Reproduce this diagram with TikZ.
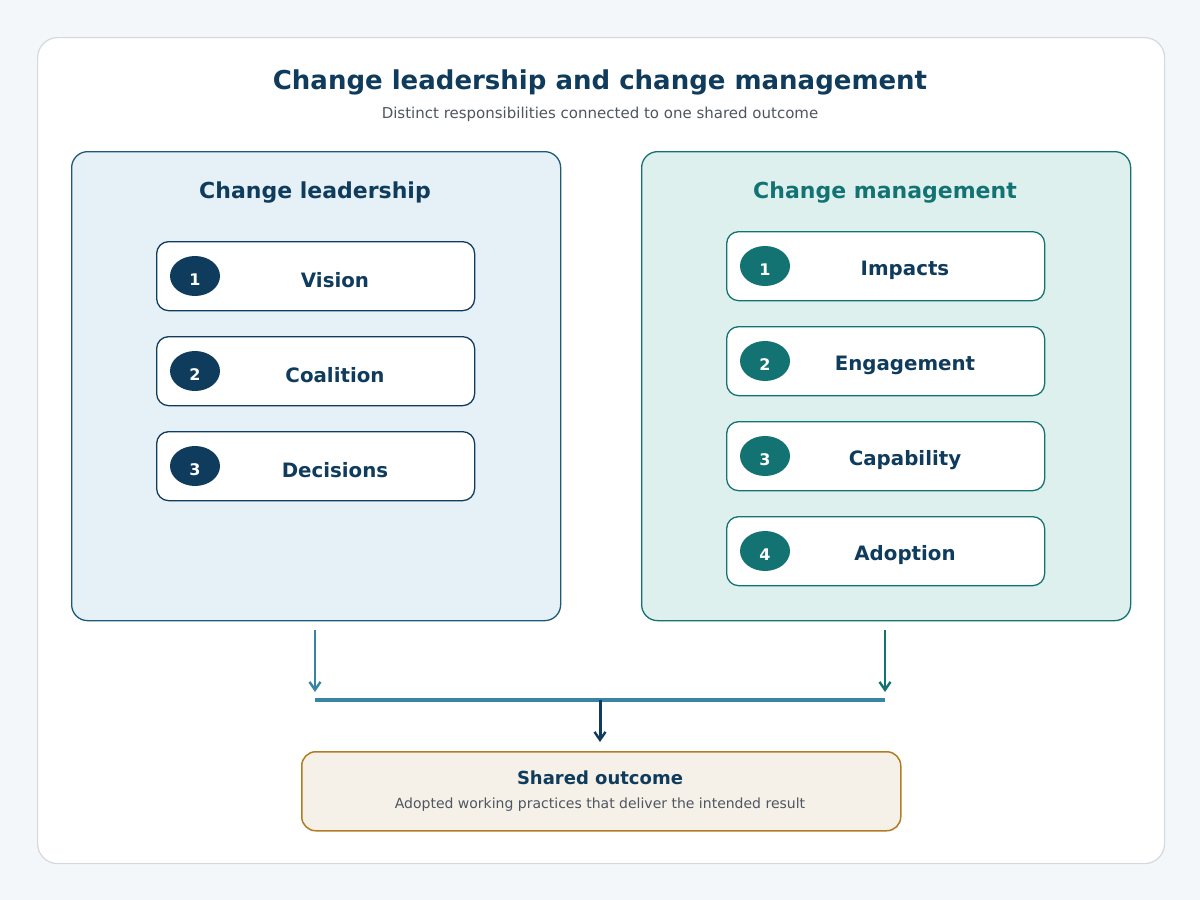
\documentclass[tikz,border=0pt]{standalone}
\usepackage{fontspec}
\setmainfont{DejaVu Sans}
\usetikzlibrary{arrows.meta,shapes.geometric,positioning}
\definecolor{bgc}{HTML}{F3F7FA}
\definecolor{cardline}{HTML}{D3D9DF}
\definecolor{navy}{HTML}{0F3B5C}
\definecolor{teal}{HTML}{137373}
\definecolor{lfill}{HTML}{E6F0F7}
\definecolor{rfill}{HTML}{DEF0ED}
\definecolor{lline}{HTML}{1E5A78}
\definecolor{midblue}{HTML}{3A84A3}
\definecolor{gold}{HTML}{B27D22}
\definecolor{ofill}{HTML}{F5F0E8}
\definecolor{greytext}{HTML}{4F5660}
\tikzset{
  panel/.style={draw, line width=1.3pt, rounded corners=16pt, minimum width=489pt, minimum height=469pt, anchor=north west},
  itembox/.style={draw, fill=white, line width=1.3pt, rounded corners=12pt, minimum width=318pt, minimum height=69pt, anchor=north west},
  numdot/.style={ellipse, minimum width=50pt, minimum height=40pt, inner sep=0pt},
  numtext/.style={text=white, font=\bfseries\fontsize{16}{18}\selectfont},
  itemtext/.style={text=navy, font=\bfseries\fontsize{19.8}{23}\selectfont},
  heading/.style={font=\bfseries\fontsize{22}{26}\selectfont},
  arr/.style={line width=2.2pt, -{Straight Barb[length=8pt,width=11pt,line width=2.4pt]}},
}
\begin{document}
\begin{tikzpicture}[x=1pt,y=-1pt]
\useasboundingbox (0,0) rectangle (1200,900);
\fill[bgc] (0,0) rectangle (1200,900);
\node[draw=cardline, fill=white, line width=1.2pt, rounded corners=20pt, minimum width=1127pt, minimum height=826pt, anchor=north west] (card) at (37,37) {};
\node[text=navy, font=\bfseries\fontsize{26}{30}\selectfont] (title) at (600,82) {Change leadership and change management};
\node[text=greytext, font=\fontsize{15}{18}\selectfont] (sub) at (600,114) {Distinct responsibilities connected to one shared outcome};
% panels
\node[panel, draw=lline, fill=lfill] (lp) at (71,151) {};
\node[panel, draw=teal, fill=rfill] (rp) at (641,151) {};
\node[heading, text=navy] (lh) at (315,193) {Change leadership};
\node[heading, text=teal] (rh) at (885,193) {Change management};
% left items
\foreach \i/\y/\t in {1/241/Vision,2/336/Coalition,3/431/Decisions}{
  \node[itembox, draw=navy] (l\i) at (156,\y) {};
  \node[numdot, fill=navy] (ln\i) at (195,\y+35) {};
  \node[numtext] (lnt\i) at (195,\y+39) {\i};
  \node[itemtext] (lt\i) at (335,\y+39) {\t};
}
% right items
\foreach \i/\y/\t in {1/231/Impacts,2/326/Engagement,3/421/Capability,4/516/Adoption}{
  \node[itembox, draw=teal] (r\i) at (726,\y) {};
  \node[numdot, fill=teal] (rn\i) at (765,\y+35) {};
  \node[numtext] (rnt\i) at (765,\y+39) {\i};
  \node[itemtext] (rt\i) at (905,\y+39.5) {\t};
}
% connectors
\coordinate (la) at (315,630);
\coordinate (lb) at (315,692);
\coordinate (ra) at (885,630);
\coordinate (rb) at (885,692);
\coordinate (jl) at (315,700);
\coordinate (jr) at (885,700);
\coordinate (jm) at (600,700);
\coordinate (om) at (600,742);
\draw[arr, draw=midblue] (la) -- (lb);
\draw[arr, draw=teal] (ra) -- (rb);
\draw[line width=3.5pt, draw=midblue] (jl) -- (jr);
% outcome
\node[draw=gold, fill=ofill, line width=1.5pt, rounded corners=14pt, minimum width=599pt, minimum height=79pt, anchor=north west] (out) at (301,751) {};
\draw[arr, draw=navy, line width=3pt] (jm) -- (om);
\node[text=navy, font=\bfseries\fontsize{18}{21}\selectfont] (oh) at (600,778) {Shared outcome};
\node[text=greytext, font=\fontsize{14}{17}\selectfont] (ot) at (600,805) {Adopted working practices that deliver the intended result};
\end{tikzpicture}
\end{document}
